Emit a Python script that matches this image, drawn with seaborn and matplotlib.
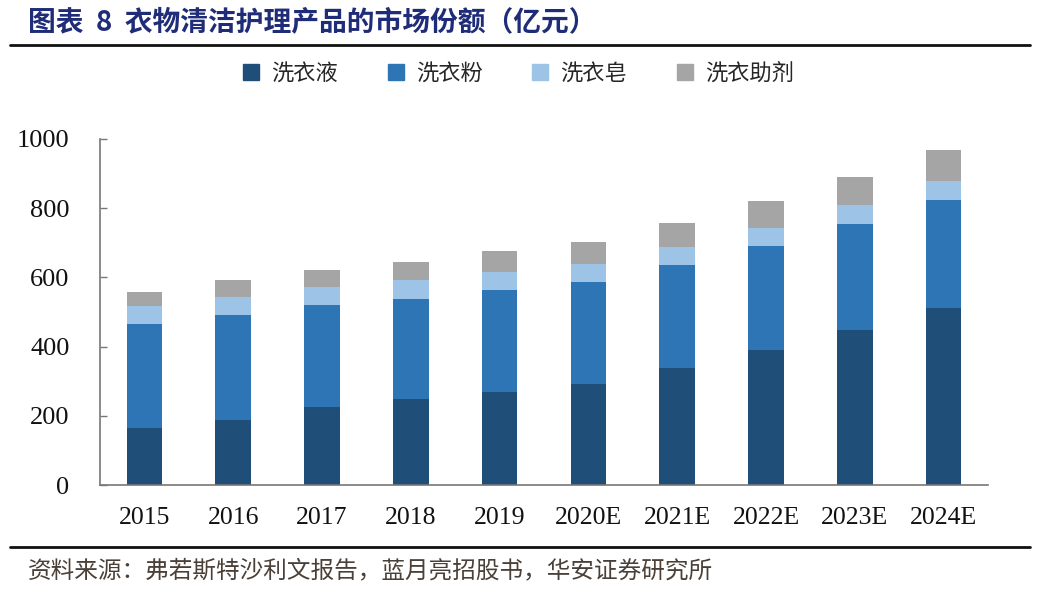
import pandas as pd
import matplotlib.pyplot as plt
import seaborn as sns
from matplotlib.lines import Line2D

# values (亿元)
years = ['2015', '2016', '2017', '2018', '2019',
         '2020E', '2021E', '2022E', '2023E', '2024E']
liquid = [165, 188, 224, 248, 270, 292, 337, 389, 448, 513]    # 洗衣液
powder = [300, 302, 297, 290, 294, 296, 298, 302, 307, 312]    # 洗衣粉
soap = [52, 54, 50, 54, 53, 52, 54, 52, 55, 54]                # 洗衣皂
additive = [42, 49, 51, 53, 60, 62, 69, 79, 81, 88]            # 洗衣助剂

series_names = ['洗衣液', '洗衣粉', '洗衣皂', '洗衣助剂']
colors = ['#1F4E79', '#2E75B6', '#9DC3E6', '#A5A5A5']

sns.set_theme(style='white')
plt.rcParams['font.family'] = ['Noto Sans CJK SC', 'DejaVu Sans']

df = pd.DataFrame({'year': years, '洗衣液': liquid, '洗衣粉': powder,
                   '洗衣皂': soap, '洗衣助剂': additive})
# cumulative tops for stacking (draw tallest first)
cum = df[series_names].cumsum(axis=1)
cum['year'] = df['year']

fig = plt.figure(figsize=(10.42, 6.10), dpi=100)
ax = fig.add_axes([100 / 1042, 1 - 485 / 610, 888 / 1042, 346 / 610])

for name, color in reversed(list(zip(series_names, colors))):
    sns.barplot(data=cum, x='year', y=name, color=color, width=0.4,
                saturation=1, order=years, ax=ax, zorder=2, linewidth=0)

ax.set_ylim(0, 1000)
ax.set_xlim(-0.5, len(years) - 0.5)
ax.set_xlabel('')
ax.set_ylabel('')
ax.set_yticks(range(0, 1001, 200))

serif = ['Liberation Serif', 'DejaVu Serif']
ax.set_yticklabels([str(v) for v in range(0, 1001, 200)], family=serif,
                   fontsize=19, color='#111111')
ax.set_xticks(range(len(years)))
ax.set_xticklabels(years, family=serif, fontsize=18.5, color='#111111')
# minor ticks between categories on the x axis
ax.set_xticks([i + 0.5 for i in range(-1, len(years))], minor=True)
ax.tick_params(axis='x', which='major', length=0, pad=16)
ax.tick_params(axis='x', which='minor', direction='in', length=5,
               color='#777777', width=1)
ax.tick_params(axis='y', direction='in', length=5, color='#777777',
               width=1, pad=22, left=True)

for side in ['top', 'right']:
    ax.spines[side].set_visible(False)
for side in ['left', 'bottom']:
    ax.spines[side].set_color('#777777')
    ax.spines[side].set_linewidth(1.2)

handles = [Line2D([0], [0], marker='s', linestyle='none', markersize=11,
                  markerfacecolor=c, markeredgecolor=c) for c in colors]
fig.legend(handles, series_names, loc='center', bbox_to_anchor=(0.496, 0.88),
           ncol=4, frameon=False, fontsize=16, handletextpad=0.4,
           columnspacing=2.1, handlelength=1.0)

# title and rules
fig.text(28 / 1042, 1 - 22 / 610, '图表  8  衣物清洁护理产品的市场份额（亿元）',
         fontsize=20, fontweight='bold', color='#1F2C78', va='center',
         ha='left')
fig.add_artist(Line2D([10 / 1042, 1030 / 1042], [1 - 45 / 610, 1 - 45 / 610],
                      color='#111111', linewidth=2))
fig.add_artist(Line2D([10 / 1042, 1030 / 1042], [1 - 547 / 610, 1 - 547 / 610],
                      color='#111111', linewidth=2))
fig.text(28 / 1042, 1 - 571 / 610,
         '资料来源：弗若斯特沙利文报告，蓝月亮招股书，华安证券研究所',
         fontsize=17, color='#4A4038', va='center', ha='left')

fig.savefig('out.png', dpi=100, facecolor='white')
